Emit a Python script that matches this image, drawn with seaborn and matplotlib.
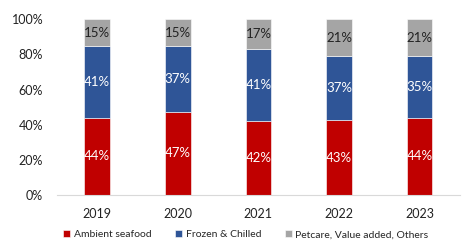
import seaborn as sns
import matplotlib.pyplot as plt
import pandas as pd
from matplotlib.ticker import PercentFormatter

years = ["2019", "2020", "2021", "2022", "2023"]
ambient = [44, 47, 42, 43, 44]
frozen = [41, 37, 41, 37, 35]
petcare = [15, 15, 17, 21, 21]

series_names = ["Ambient seafood", "Frozen & Chilled", "Petcare, Value added, Others"]
colors = ["#C00000", "#2F5597", "#A5A5A5"]
label_colors = ["white", "white", "#222222"]

sns.set_theme(style="white")
plt.rcParams['font.family'] = ['Lato', 'DejaVu Sans']

df = pd.DataFrame({"year": years, series_names[0]: ambient,
                   series_names[1]: frozen, series_names[2]: petcare})
# 100% stacked: normalise each year to its total
totals = df[series_names].sum(axis=1)
shares = df[series_names].div(totals, axis=0)

fig = plt.figure(figsize=(4.75, 2.42), dpi=100)
ax = fig.add_axes([0.12, 0.194, 0.848, 0.726])

bottom = pd.Series([0.0] * len(years))
for i, name in enumerate(series_names):
    sns.barplot(x=df["year"], y=shares[name], bottom=bottom, color=colors[i],
                saturation=1, width=0.32, edgecolor="white", linewidth=0.4,
                label=name, ax=ax)
    # label each segment with the original value
    for j, v in enumerate(df[name]):
        ax.text(j, bottom[j] + shares[name][j] / 2, "{}%".format(v),
                ha="center", va="center", color=label_colors[i], fontsize=9.5)
    bottom = bottom + shares[name]

ax.set_ylim(0, 1)
ax.set_xlim(-0.5, 4.5)
ax.set_yticks([0, 0.2, 0.4, 0.6, 0.8, 1.0])
ax.yaxis.set_major_formatter(PercentFormatter(1.0, decimals=0))
ax.set_xlabel("")
ax.set_ylabel("")
ax.tick_params(axis="both", labelsize=9, colors="#222222", length=0)
ax.tick_params(axis="y", pad=10)
ax.tick_params(axis="x", pad=9)
for s in ["top", "right", "left"]:
    ax.spines[s].set_visible(False)
ax.spines["bottom"].set_color("#D9D9D9")
ax.spines["bottom"].set_linewidth(0.8)

ax.legend(loc="center", bbox_to_anchor=(0.469, -0.225), ncol=3, frameon=False,
          fontsize=7.5, handlelength=0.7, handleheight=0.7, handletextpad=0.3,
          columnspacing=2.3, borderaxespad=0)

plt.savefig("out.png", dpi=100)
